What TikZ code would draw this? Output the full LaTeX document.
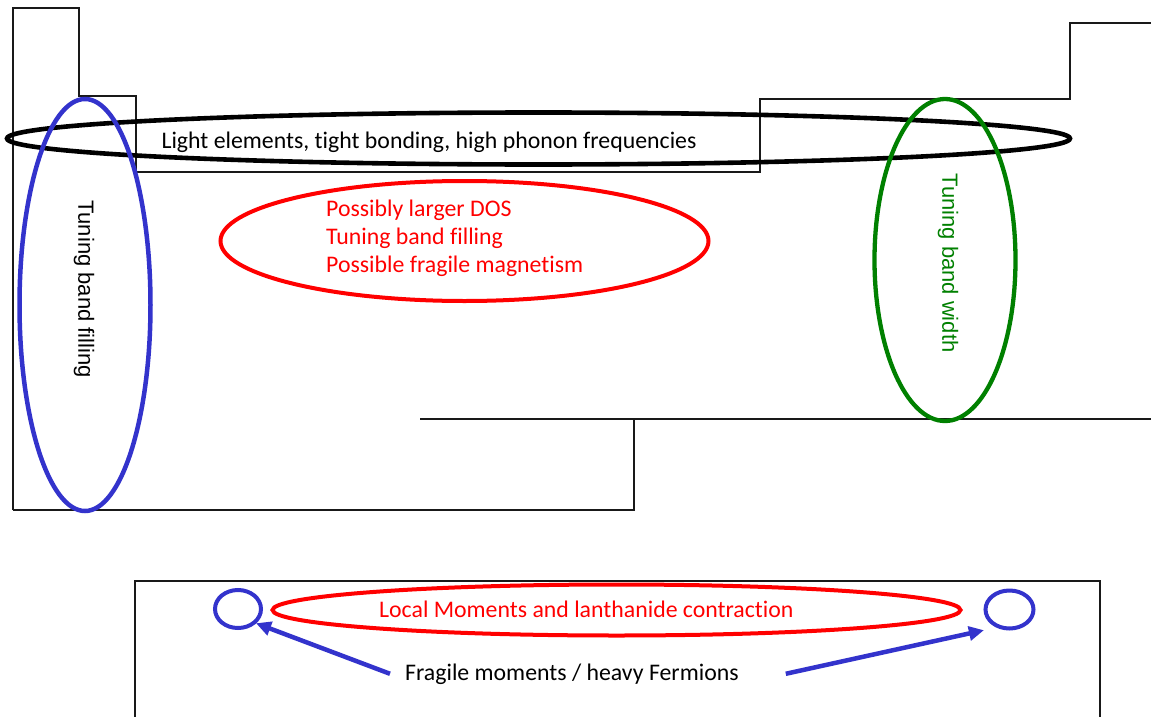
\documentclass[tikz,border=0pt]{standalone}
\usepackage{fontspec}
\setmainfont{Carlito}[RawFeature={-liga;-clig;-calt}]
\newfontfamily\arialfont{Liberation Sans}
\usetikzlibrary{shapes.geometric,arrows.meta}

\definecolor{ringblue}{RGB}{51,51,204}
\definecolor{ringgreen}{RGB}{0,128,0}
\definecolor{ringred}{RGB}{255,0,0}

\tikzset{
  outline/.style={line width=1.4pt, draw=black!90},
  ring/.style={ellipse, draw, inner sep=0pt, outer sep=0pt},
  label/.style={inner sep=0pt, font=\fontsize{23.8}{28}\selectfont},
  sidelabel/.style={inner sep=0pt, rotate=-90, font=\arialfont\fontsize{22}{26}\selectfont},
  pointer/.style={draw=ringblue, line width=4.5pt, -{Triangle[length=15pt,width=14pt]}},
}

\begin{document}
\begin{tikzpicture}[x=1pt, y=-1pt]
\useasboundingbox (0,0) rectangle (1151,717);

% stepped outline of the upper panel
\draw[outline] (13,510) -- (13,8) -- (79,8) -- (79,96) -- (136,96) -- (136,172)
  -- (760,172) -- (760,99) -- (1070,99) -- (1070,23) -- (1151,23);
\draw[outline] (13,510) -- (634,510) -- (634,419);
\draw[outline] (420,419) -- (1151,419);

% open frame of the lower panel
\draw[outline] (135,717) -- (135,581) -- (1100,581) -- (1100,717);

% rings of the upper panel
\node[ring, draw=black, line width=4.6pt, minimum width=1063pt, minimum height=52pt] (light) at (538.5,138.5) {};
\node[ring, draw=ringblue, line width=4.5pt, minimum width=131pt, minimum height=412pt] (fill) at (85,305) {};
\node[ring, draw=ringgreen, line width=4.3pt, minimum width=141pt, minimum height=322pt] (width) at (945,260) {};
\node[ring, draw=ringred, line width=4pt, minimum width=488pt, minimum height=120pt] (dos) at (464.5,241) {};

% texts of the upper panel
\node[label, anchor=base] (lighttext) at (429,148) {Light elements, tight bonding, high phonon frequencies};
\node[label, anchor=base west, text=ringred] (dos1) at (326,216.5) {Possibly larger DOS};
\node[label, anchor=base west, text=ringred] (dos2) at (326,244.5) {Tuning band filling};
\node[label, anchor=base west, text=ringred] (dos3) at (326,272.5) {Possible fragile magnetism};
\node[sidelabel] (filltext) at (84,289) {Tuning band filling};
\node[sidelabel, text=ringgreen] (widthtext) at (948,263) {Tuning band width};

% lower panel
\node[ring, draw=ringred, line width=4pt, minimum width=688pt, minimum height=51pt] (lmo) at (616.5,610) {};
\node[label, anchor=base west, text=ringred] (lmotext) at (379,617) {Local Moments and lanthanide contraction};
\node[ring, draw=ringblue, line width=4pt, minimum width=46pt, minimum height=38pt] (lc) at (238,609) {};
\node[ring, draw=ringblue, line width=4pt, minimum width=48pt, minimum height=38pt] (rc) at (1009.5,609.5) {};
\node[label, anchor=base west] (fm) at (405,680) {Fragile moments / heavy Fermions};

\coordinate (fmL) at ([xshift=-15pt]fm.west);
\coordinate (fmR) at ([xshift=47pt]fm.east);
\draw[pointer, shorten >=2pt] (fmL) -- (lc.-40);
\draw[pointer, shorten >=16pt] (fmR) -- (rc.-120);
\end{tikzpicture}
\end{document}
